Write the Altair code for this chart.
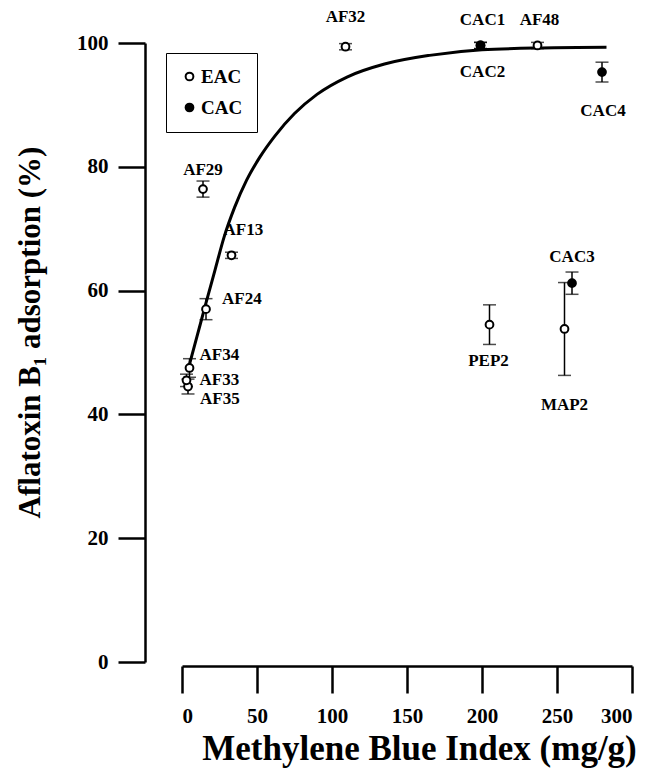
import altair as alt
import pandas as pd

# ---- data ----
names = ["AF35", "AF33", "AF34", "AF24", "AF13", "AF29", "AF32", "AF48",
         "PEP2", "MAP2", "CAC1", "CAC2", "CAC3", "CAC4"]
mbi = [4, 3, 5, 16, 33, 14, 109, 237, 205, 255, 199, 199, 260, 280]
adsorption = [44.5, 45.5, 47.5, 57.0, 65.7, 76.4, 99.4, 99.6, 54.5, 53.8, 99.6, 99.6, 61.2, 95.3]
errors = [1.2, 1.0, 1.5, 1.7, 0.5, 1.3, 0.5, 0.5, 3.2, 7.5, 0.5, 0.5, 1.8, 1.6]
kinds = ["EAC"] * 10 + ["CAC"] * 4

curve_x = [4, 10, 16, 22, 28, 35, 43, 52, 62, 75, 90, 110, 135, 165, 200, 240, 283]
curve_y = [47.2, 52.6, 58.0, 63.3, 68.6, 73.4, 77.8, 81.6, 85.0, 88.6, 91.7, 94.5, 96.6, 98.0, 98.9, 99.2, 99.3]

x_ticks = [0, 50, 100, 150, 200, 250, 300]
y_ticks = [0, 20, 40, 60, 80, 100]

pts = pd.DataFrame({"name": names, "x": mbi, "y": adsorption, "err": errors, "type": kinds})
curve = pd.DataFrame({"x": curve_x, "y": curve_y})

# label placement (align, dx, dy) – styling only
placement = {
    "AF35": ("left", 12, 12), "AF33": ("left", 13, 0), "AF34": ("left", 10, -13),
    "AF24": ("left", 16, -10), "AF13": ("left", -8, -25), "AF29": ("center", 0, -19),
    "AF32": ("center", 0, -30), "AF48": ("center", 2, -25), "CAC1": ("center", 2, -25),
    "CAC2": ("center", 2, 27), "CAC4": ("center", 1, 39), "CAC3": ("center", 0, -26),
    "PEP2": ("center", -1, 36), "MAP2": ("center", 0, 76),
}

FONT = "Liberation Serif"

xs = alt.Scale(domain=[0, 300], nice=False)
ys = alt.Scale(domain=[0, 100], nice=False)

xaxis = alt.Axis(values=x_ticks, offset=4, tickSize=27, labelPadding=12,
                 title="Methylene Blue Index (mg/g)", titleFontSize=35, titlePadding=5,
                 titleX=237, labelFontSize=21)
yaxis = alt.Axis(values=y_ticks, offset=37, tickSize=27, labelPadding=10,
                 title="Aflatoxin B\u2081 adsorption (%)", titleFontSize=31, titlePadding=30,
                 titleY=289, labelFontSize=21)

base = alt.Chart(pts)

line = alt.Chart(curve).mark_line(color="black", strokeWidth=3, interpolate="monotone").encode(
    x=alt.X("x:Q", scale=xs, axis=xaxis),
    y=alt.Y("y:Q", scale=ys, axis=yaxis),
)

err = base.transform_calculate(lo="datum.y - datum.err", hi="datum.y + datum.err")
bars = err.mark_rule(color="black", strokeWidth=1.5).encode(
    x="x:Q", y="lo:Q", y2="hi:Q")
cap_lo = err.mark_tick(color="black", orient="horizontal", size=13, thickness=1.5).encode(
    x="x:Q", y="lo:Q")
cap_hi = err.mark_tick(color="black", orient="horizontal", size=13, thickness=1.5).encode(
    x="x:Q", y="hi:Q")

points = base.mark_circle(size=60, stroke="black", strokeWidth=2, opacity=1).encode(
    x="x:Q", y="y:Q",
    fill=alt.Fill("type:N", scale=alt.Scale(domain=["EAC", "CAC"], range=["white", "black"]),
                  legend=alt.Legend(title=None, orient="none", legendX=-16, legendY=10,
                                    strokeColor="black", padding=14, rowPadding=11,
                                    labelFont=FONT, labelFontSize=19, labelFontWeight="bold",
                                    labelColor="black", symbolType="circle", symbolSize=60,
                                    symbolStrokeColor="black", symbolStrokeWidth=2,
                                    labelOffset=2)),
)

labels = []
for nm, (al, dx, dy) in placement.items():
    labels.append(
        base.transform_filter(alt.datum.name == nm).mark_text(
            align=al, baseline="middle", dx=dx, dy=dy, font=FONT, fontSize=17,
            fontWeight="bold", color="black").encode(x="x:Q", y="y:Q", text="name:N")
    )

chart = alt.layer(line, bars, cap_lo, cap_hi, points, *labels).properties(
    width=450, height=619,
    autosize=alt.AutoSizeParams(type="none"),
    padding={"left": 174, "top": 35, "right": 12, "bottom": 107},
).configure_view(stroke=None).configure_axis(
    grid=False, domainColor="black", domainWidth=2.5, tickColor="black", tickWidth=2.5,
    labelColor="black", labelFont=FONT, labelFontWeight="bold",
    titleColor="black", titleFont=FONT, titleFontWeight="bold",
).configure_legend(labelFont=FONT, labelFontWeight="bold", strokeColor="black")

chart.save("out.html", embed_options={"renderer": "svg", "actions": False})
